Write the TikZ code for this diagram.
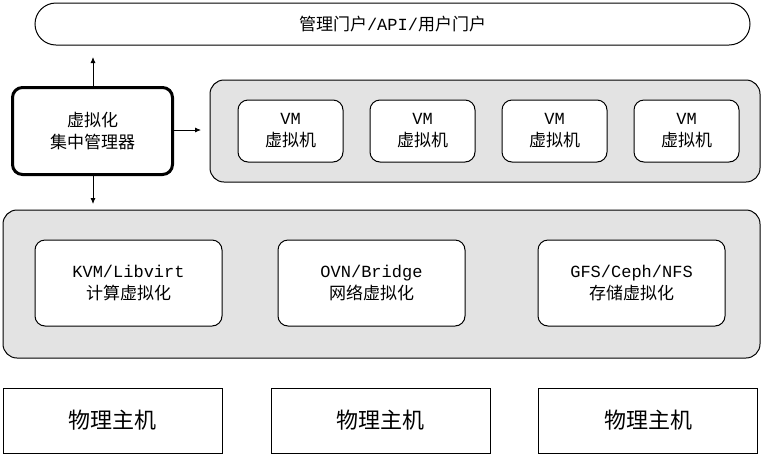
\documentclass[tikz,border=0pt]{standalone}
\usepackage{fontspec}
\setmainfont{Liberation Mono}
\newfontfamily\cjk{Noto Sans CJK SC}
\newcommand{\zh}[1]{{\cjk #1}}
\usetikzlibrary{arrows.meta}
\begin{document}
\begin{tikzpicture}[x=1pt,y=-1pt,
  box/.style={draw=black,line width=1pt,rounded corners=10pt,fill=white,align=center,font=\fontsize{17}{22}\selectfont,inner sep=0pt},
  grp/.style={draw=black,line width=1pt,rounded corners=14pt,fill=gray!22},
  arr/.style={-{Latex[length=6pt,width=5pt]},line width=0.8pt}]
\useasboundingbox (0,0) rectangle (762,456);
\node[box,rounded corners=21pt,minimum width=715pt,minimum height=42pt] (top) at (392.5,24) {\zh{管理门户}/API/\zh{用户门户}};
\node[grp,minimum width=550pt,minimum height=102pt] (vmg) at (485,131) {};
\foreach \i/\x in {1/290.5,2/422.5,3/554.5,4/686.5}
  \node[box,minimum width=105pt,minimum height=62pt] (vm\i) at (\x,131) {VM\\\zh{虚拟机}};
\node[box,line width=3pt,minimum width=160pt,minimum height=87pt] (mgr) at (92.5,131) {\zh{虚拟化}\\\zh{集中管理器}};
\node[grp,minimum width=757pt,minimum height=148pt] (hg) at (381.5,284) {};
\node[box,minimum width=187pt,minimum height=86pt] (kvm) at (128.5,283) {KVM/Libvirt\\\zh{计算虚拟化}};
\node[box,minimum width=187pt,minimum height=86pt] (ovn) at (371.5,283) {OVN/Bridge\\\zh{网络虚拟化}};
\node[box,minimum width=187pt,minimum height=86pt] (gfs) at (631.5,283) {GFS/Ceph/NFS\\\zh{存储虚拟化}};
\tikzset{phy/.style={draw=black,line width=1pt,fill=white,minimum width=219pt,minimum height=65pt,font=\cjk\fontsize{22}{26}\selectfont}}
\node[phy] (p1) at (112.5,420.5) {物理主机};
\node[phy] (p2) at (380.5,420.5) {物理主机};
\node[phy] (p3) at (648,420.5) {物理主机};
\coordinate (up) at (93,57);
\coordinate (rt) at (201,130);
\coordinate (dn) at (93,204);
\draw[arr] (mgr.north -| up) -- (up);
\draw[arr] (mgr.east |- rt) -- (rt);
\draw[arr] (mgr.south -| dn) -- (dn);
\end{tikzpicture}
\end{document}
